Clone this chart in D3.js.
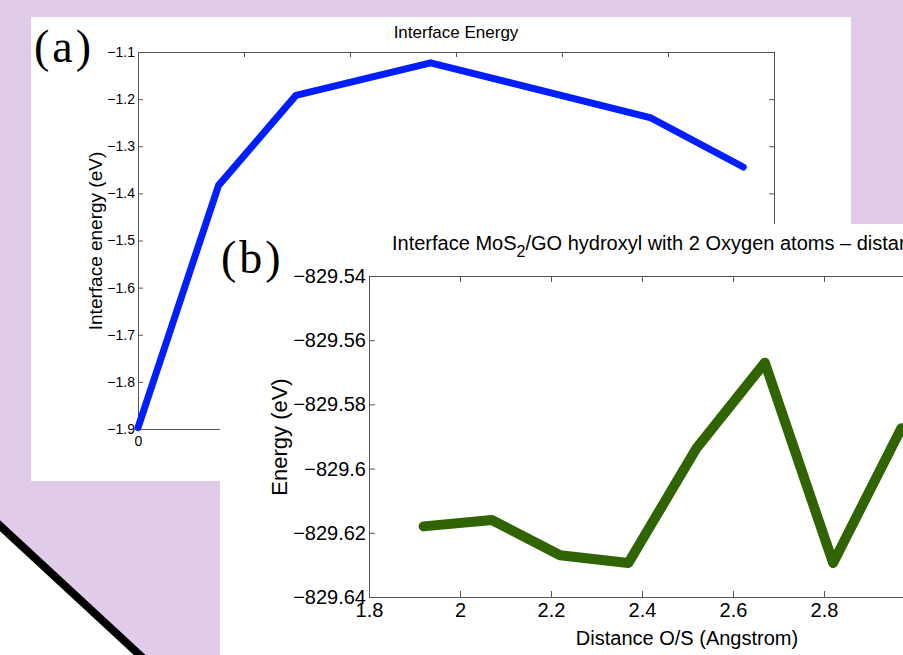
<!DOCTYPE html>
<meta charset="utf-8">
<style>
body { margin: 0; background: #e0cce8; }
svg { display: block; font-family: "Liberation Sans", Arial, sans-serif; }
.axis path, .axis line { stroke: #555; }
.axa text { font-size: 14px; }
.axb text { font-size: 20px; }
.axis .domain { stroke: #555; }
</style>
<svg width="903" height="655"></svg>
<script src="https://cdnjs.cloudflare.com/ajax/libs/d3/7.8.5/d3.min.js"></script>
<script>

// (a) interface energy
var aX = [0, 0.38, 0.745, 1.38, 2.42, 2.855];
var aY = [-1.897, -1.383, -1.192, -1.123, -1.240, -1.344];
var aXTicks = [0, 0.5, 1, 1.5, 2, 2.5, 3];
var aYTicks = [-1.9, -1.8, -1.7, -1.6, -1.5, -1.4, -1.3, -1.2, -1.1];

// (b) energy vs O/S distance
var bX = [1.92, 2.07, 2.22, 2.37, 2.52, 2.67, 2.82, 2.97];
var bY = [-829.618, -829.616, -829.627, -829.6294, -829.5936, -829.567, -829.6294, -829.5874];
var bXTicks = [1.8, 2, 2.2, 2.4, 2.6, 2.8];
var bYTicks = [-829.64, -829.62, -829.6, -829.58, -829.56, -829.54];

var svg = d3.select("svg");

svg.append("rect").attr("width", 903).attr("height", 655).attr("fill", "#e0cce8");

// ---- panel (a)
var pa = svg.append("g");
pa.append("rect").attr("x", 31).attr("y", 17).attr("width", 820).attr("height", 464).attr("fill", "#fff");

var xa = d3.scaleLinear().domain([0, 3]).range([138, 774]),
    ya = d3.scaleLinear().domain([-1.9, -1.1]).range([429, 52]);

pa.append("g").attr("class", "axis axa")
    .attr("transform", "translate(0,429)")
    .call(d3.axisBottom(xa).tickValues(aXTicks).tickSizeInner(-5).tickSizeOuter(0).tickPadding(7).tickFormat(d3.format("~g")));
pa.append("g").attr("class", "axis axa")
    .attr("transform", "translate(0,52)")
    .call(d3.axisTop(xa).tickValues(aXTicks).tickSizeInner(-5).tickSizeOuter(0).tickFormat(""));
pa.append("g").attr("class", "axis axa")
    .attr("transform", "translate(138,0)")
    .call(d3.axisLeft(ya).tickValues(aYTicks).tickSizeInner(-5).tickSizeOuter(0).tickPadding(3).tickFormat(d3.format(".1f")));
pa.append("g").attr("class", "axis axa")
    .attr("transform", "translate(774,0)")
    .call(d3.axisRight(ya).tickValues(aYTicks).tickSizeInner(-5).tickSizeOuter(0).tickFormat(""));

pa.append("path")
    .datum(d3.zip(aX, aY))
    .attr("fill", "none")
    .attr("stroke", "#001eff")
    .attr("stroke-width", 7)
    .attr("stroke-linejoin", "round")
    .attr("stroke-linecap", "round")
    .attr("d", d3.line().x(function(d) { return xa(d[0]); }).y(function(d) { return ya(d[1]); }));

pa.append("text").attr("x", 456).attr("y", 38).attr("text-anchor", "middle")
    .attr("font-size", 17).text("Interface Energy");
pa.append("text").attr("transform", "translate(102,241) rotate(-90)").attr("text-anchor", "middle")
    .attr("font-size", 19).text("Interface energy (eV)");
pa.append("text").attr("x", 34).attr("y", 62).attr("letter-spacing", 3)
    .attr("font-family", "'Liberation Serif', 'DejaVu Serif', serif").attr("font-size", 46).text("(a)");

// ---- panel (b)
var pb = svg.append("g");
pb.append("rect").attr("x", 220).attr("y", 224).attr("width", 683).attr("height", 431).attr("fill", "#fff");

var xb = d3.scaleLinear().domain([1.8, 3.2]).range([369, 1006]),
    yb = d3.scaleLinear().domain([-829.64, -829.54]).range([597, 276]);

pb.append("g").attr("class", "axis axb")
    .attr("transform", "translate(0,597)")
    .call(d3.axisBottom(xb).tickValues(bXTicks).tickSizeInner(-6).tickSizeOuter(0).tickPadding(6).tickFormat(d3.format("~g")));
pb.append("g").attr("class", "axis axb")
    .attr("transform", "translate(0,276)")
    .call(d3.axisTop(xb).tickValues(bXTicks).tickSizeInner(-6).tickSizeOuter(0).tickFormat(""));
pb.append("g").attr("class", "axis axb")
    .attr("transform", "translate(369,0)")
    .call(d3.axisLeft(yb).tickValues(bYTicks).tickSizeInner(-6).tickSizeOuter(0).tickPadding(3).tickFormat(d3.format(".2~f")));

pb.append("path")
    .datum(d3.zip(bX, bY))
    .attr("fill", "none")
    .attr("stroke", "#2f6400")
    .attr("stroke-width", 10)
    .attr("stroke-linejoin", "round")
    .attr("stroke-linecap", "round")
    .attr("d", d3.line().x(function(d) { return xb(d[0]); }).y(function(d) { return yb(d[1]); }));

var tb = pb.append("text").attr("x", 392).attr("y", 250).attr("font-size", 20);
tb.append("tspan").text("Interface MoS");
tb.append("tspan").attr("dy", 7).attr("font-size", 16).text("2");
tb.append("tspan").attr("dy", -7).text("/GO hydroxyl with 2 Oxygen atoms \u2013 distance");

pb.append("text").attr("x", 687).attr("y", 645).attr("text-anchor", "middle")
    .attr("font-size", 20).text("Distance O/S (Angstrom)");
pb.append("text").attr("transform", "translate(287,437) rotate(-90)").attr("text-anchor", "middle")
    .attr("font-size", 22).text("Energy (eV)");
pb.append("text").attr("x", 221).attr("y", 273).attr("letter-spacing", 3)
    .attr("font-family", "'Liberation Serif', 'DejaVu Serif', serif").attr("font-size", 46).text("(b)");

// ---- slanted corner
svg.append("path")
    .attr("d", "M0,526 L140,655 L0,655 Z")
    .attr("fill", "#fff");
svg.append("line")
    .attr("x1", -4).attr("y1", 522).attr("x2", 144).attr("y2", 659)
    .attr("stroke", "#000").attr("stroke-width", 8);

</script>
